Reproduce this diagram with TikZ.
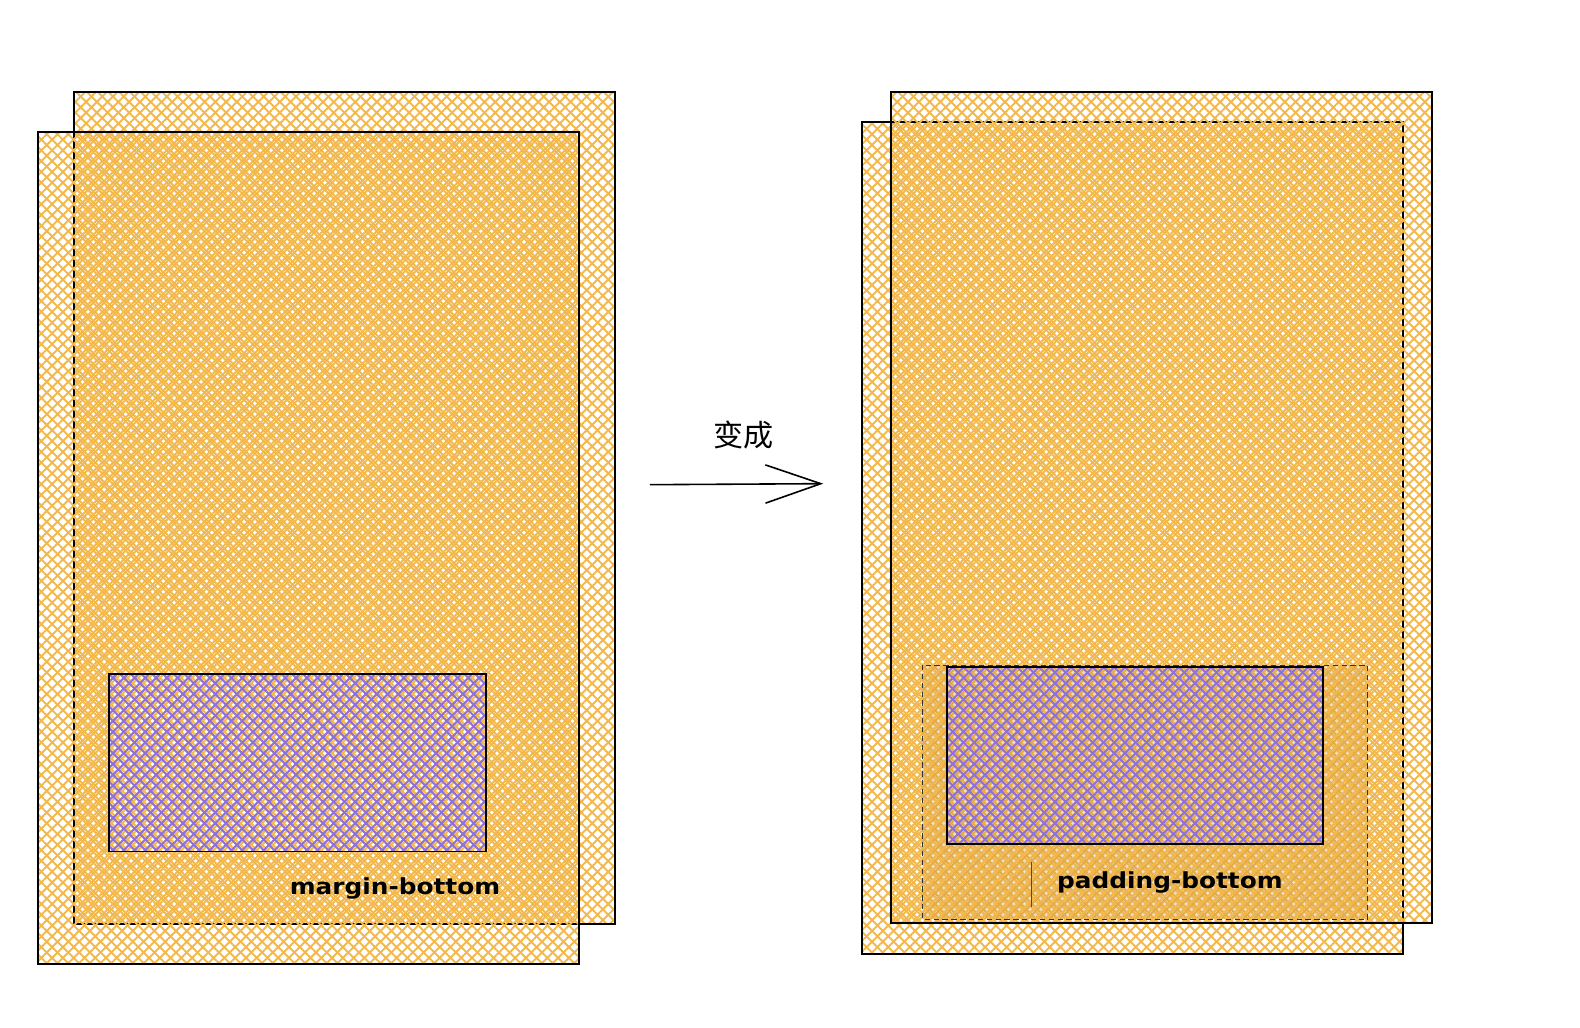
\documentclass[tikz,border=0pt]{standalone}
\usepackage{fontspec}
\newfontfamily\cjkfont{Noto Sans CJK SC}
\newfontfamily\handfont[FakeStretch=1.12]{DejaVu Sans Bold}
\usetikzlibrary{arrows.meta,patterns.meta,positioning}
\definecolor{hatch}{HTML}{F2B84B}
\definecolor{boxpurple}{HTML}{8C6FE0}
\definecolor{padfill}{HTML}{C98F35}

\begin{document}
\begin{tikzpicture}[x=0.02cm,y=-0.02cm,
    outline/.style={draw=black,line width=1.1pt},
    crosshatch/.style={preaction={pattern={Lines[angle=45,distance=4.3pt,line width=1.1pt]},
        pattern color=#1},
        pattern={Lines[angle=-45,distance=4.3pt,line width=1.1pt]},pattern color=#1},
    crosshatch shifted/.style={preaction={pattern={Lines[angle=45,distance=4.3pt,line width=1.1pt,xshift=2.1pt]},
        pattern color=#1},
        pattern={Lines[angle=-45,distance=4.3pt,line width=1.1pt,xshift=2.1pt]},pattern color=#1},
    padbox/.style={draw=black!80,line width=0.5pt,dash pattern=on 3pt off 2pt},
    label/.style={font=\handfont\fontsize{12.5}{15}\selectfont}
]
    \useasboundingbox (0,0) rectangle (1568,1020);

    % before
    \draw[outline,crosshatch=hatch] (73,91) rectangle (610,917);
    \draw[outline,crosshatch shifted=hatch] (38,131) rectangle (575,957);
    \draw[outline,crosshatch=boxpurple] (108,669) rectangle (482,845);
    \node[label] (margin-label) at (392,882) {margin-bottom};

    % arrow
    \node[font=\cjkfont\fontsize{17}{20}\selectfont] (change-label) at (738,432) {变成};
    \coordinate (arrow-start) at (645,481);
    \coordinate (arrow-end) at (817,480);
    \draw[-{Straight Barb[length=1.1cm,width=0.76cm]},line width=0.9pt]
        (arrow-start) -- (arrow-end);

    % after
    \draw[outline,crosshatch=hatch] (855,121) rectangle (1392,947);
    \draw[outline,crosshatch shifted=hatch] (884,91) rectangle (1421,916);
    \fill[padfill,opacity=0.3] (915,660) rectangle (1357,912);
    \draw[padbox,crosshatch=hatch] (915,660) rectangle (1357,912);
    \draw[outline,crosshatch=boxpurple] (940,662) rectangle (1313,838);
    \coordinate (cursor-top) at (1024,855);
    \coordinate (cursor-bottom) at (1024,900);
    \draw[black!70,line width=0.6pt] (cursor-top) -- (cursor-bottom);
    \node[label] (padding-label) at (1161,876) {padding-bottom};

\end{tikzpicture}
\end{document}
